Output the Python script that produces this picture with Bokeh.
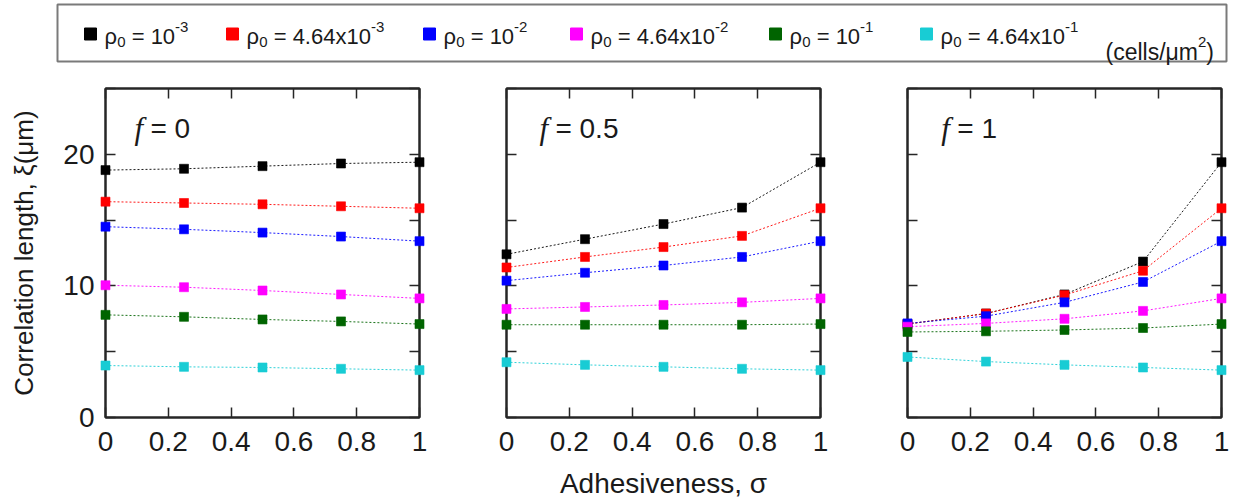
import math
from bokeh.plotting import figure
from bokeh.models import Range1d, FixedTicker, LinearAxis, Label
from bokeh.layouts import column, row
from bokeh.embed import file_html
from bokeh.resources import INLINE
from bokeh.core.properties import value

# ---------------- data ----------------
sigma = [0, 0.25, 0.5, 0.75, 1.0]
x_ticks = [0, 0.2, 0.4, 0.6, 0.8, 1]
x_tick_labels = ["0", "0.2", "0.4", "0.6", "0.8", "1"]
y_ticks = [0, 5, 10, 15, 20, 25]
y_tick_labels = ["0", "", "10", "", "20", ""]

rho_mantissa = ["10", "4.64x10", "10", "4.64x10", "10", "4.64x10"]
rho_exponent = ["-3", "-3", "-2", "-2", "-1", "-1"]
colors = ["#000000", "#ff0000", "#0000ff", "#ff00ff", "#006400", "#18ccd4"]

f_values = ["0", "0.5", "1"]

# correlation length xi (um), one list per density, for f = 0
xi_f0 = [
    [18.8, 18.9, 19.1, 19.3, 19.4],
    [16.4, 16.3, 16.2, 16.05, 15.9],
    [14.5, 14.3, 14.05, 13.75, 13.4],
    [10.05, 9.9, 9.65, 9.35, 9.05],
    [7.8, 7.65, 7.45, 7.3, 7.1],
    [3.95, 3.85, 3.8, 3.7, 3.6],
]
# f = 0.5
xi_f05 = [
    [12.4, 13.55, 14.7, 15.95, 19.4],
    [11.4, 12.2, 12.95, 13.8, 15.9],
    [10.4, 11.0, 11.55, 12.2, 13.4],
    [8.25, 8.4, 8.55, 8.75, 9.05],
    [7.05, 7.05, 7.05, 7.05, 7.1],
    [4.2, 4.0, 3.85, 3.7, 3.6],
]
# f = 1
xi_f1 = [
    [7.1, 7.9, 9.35, 11.85, 19.4],
    [7.1, 7.9, 9.3, 11.15, 15.9],
    [7.15, 7.7, 8.75, 10.3, 13.4],
    [6.9, 7.15, 7.5, 8.1, 9.05],
    [6.5, 6.55, 6.65, 6.8, 7.1],
    [4.6, 4.25, 4.0, 3.8, 3.6],
]

x_title = "Adhesiveness, \u03c3"
y_title = "Correlation length, \u03be(\u03bcm)"

SANS = "Liberation Sans"
SERIF = "Liberation Serif"
AX = "#262626"
TXT = "#1a1a1a"


def blank_strip(w, h, xr, yr):
    s = figure(width=w, height=h, x_range=xr, y_range=yr, output_backend="svg",
               toolbar_location=None, min_border_left=0, min_border_right=0,
               min_border_top=0, min_border_bottom=0)
    s.axis.visible = False
    s.grid.visible = False
    s.outline_line_color = None
    s.background_fill_color = "white"
    s.border_fill_color = "white"
    return s


def style_axis(ax, ticks, labels, show_labels=True):
    ax.ticker = FixedTicker(ticks=ticks)
    ax.major_label_overrides = {t: (l if show_labels else "") for t, l in zip(ticks, labels)}
    ax.minor_tick_line_color = None
    ax.major_tick_in = 10
    ax.major_tick_out = 0
    ax.major_tick_line_color = AX
    ax.major_tick_line_width = 1.5
    ax.axis_line_color = AX
    ax.axis_line_width = 2
    ax.major_label_text_font = SANS
    ax.major_label_text_font_size = "28px"
    ax.major_label_text_color = TXT
    ax.axis_label_text_font = SANS
    ax.axis_label_text_font_style = "normal"
    ax.axis_label_text_color = TXT


def make_panel(data, f_text, width, left, right, first, f_x):
    p = figure(width=width, height=397, x_range=Range1d(0, 1), y_range=Range1d(0, 25),
               output_backend="svg", toolbar_location=None,
               min_border_left=left, min_border_right=right,
               min_border_top=18, min_border_bottom=50)
    p.grid.visible = False
    p.outline_line_color = AX
    p.outline_line_width = 2
    p.background_fill_color = "white"
    p.border_fill_color = "white"

    style_axis(p.xaxis[0], x_ticks, x_tick_labels, True)
    p.xaxis[0].major_label_standoff = 14
    style_axis(p.yaxis[0], y_ticks, y_tick_labels, first)
    p.yaxis[0].major_label_standoff = 11
    if first:
        p.yaxis[0].axis_label = y_title
        p.yaxis[0].axis_label_text_font_size = "26px"
        p.yaxis[0].axis_label_standoff = 21

    top = LinearAxis()
    style_axis(top, x_ticks, x_tick_labels, False)
    top.major_label_standoff = 0
    p.add_layout(top, "above")
    rgt = LinearAxis()
    style_axis(rgt, y_ticks, y_tick_labels, False)
    rgt.major_label_standoff = 0
    p.add_layout(rgt, "right")

    for vals, c in zip(data, colors):
        p.line(sigma, vals, line_color=c, line_width=1, line_dash="2 2", line_alpha=0.9)
        r = p.scatter(sigma, vals, marker="square", size=9, fill_color=c, line_color=c,
                      line_alpha=0.6)
        r.level = "overlay"

    p.add_layout(Label(x=f_x, y=21.96, x_offset=-1, text="f", text_font=SERIF,
                       text_font_style="italic", text_font_size="31px", text_color=TXT,
                       text_baseline="alphabetic"))
    p.add_layout(Label(x=f_x, y=21.96, x_offset=15, text="= " + f_text, text_font=SANS,
                       text_font_size="28px", text_color=TXT, text_baseline="alphabetic"))
    return p


p1 = make_panel(xi_f0, f_values[0], 463, 105, 44, True, 0.0955)
p2 = make_panel(xi_f05, f_values[1], 400, 43, 43, False, 0.108)
p3 = make_panel(xi_f1, f_values[2], 370, 44, 12, False, 0.111)

# x-title strip below the panels; y data = page y
xs = blank_strip(1233, 34, Range1d(0, 1233), Range1d(501, 467))
xs.text(x=[663], y=[483], text=[x_title], text_align="center", text_baseline="alphabetic",
        text_font=value(SANS), text_font_size="28px", text_color=TXT)

# ---------------- legend strip ----------------
lg = blank_strip(1233, 70, Range1d(0, 1233), Range1d(70, 0))
lg.quad(left=[57], right=[1226], top=[4], bottom=[61], fill_color=None,
        line_color="#7a7a7a", line_width=2)

swatch_x = [90, 232, 429, 576, 775, 926]
lg.scatter(swatch_x, [33.5] * 6, marker="square", size=12, fill_color=colors,
           line_color=colors)

EM = {"0": .556, "1": .556, "2": .556, "3": .556, "4": .556, "5": .556, "6": .556,
      "7": .556, "8": .556, "9": .556, ".": .278, "x": .5, "=": .584, " ": .278,
      "-": .333, "\u03c1": .578, "(": .333, ")": .333, "c": .5, "e": .556, "l": .222,
      "s": .5, "/": .278, "\u03bc": .576, "m": .833}


def tw(s, size):
    return sum(EM.get(ch, .556) for ch in s) * size


def rich(x, y, parts):
    for t, size, dy in parts:
        stripped = t.lstrip(" ")
        x += tw(t[:len(t) - len(stripped)], size)
        lg.text(x=[x], y=[y + dy], text=[stripped], text_font=value(SANS),
                text_font_size=f"{size}px", text_baseline="alphabetic", text_color=TXT)
        x += tw(stripped, size)


for sx, man, ex in zip(swatch_x, rho_mantissa, rho_exponent):
    rich(sx + 14, 36, [("\u03c1", 22, 0), ("0", 15, 5), (" = " + man, 22, 0), (ex, 15, -10)])

rich(1105, 51, [("(cells/\u03bcm", 23, 0), ("2", 15, -10), (")", 23, 0)])

layout = column(lg, row(p1, p2, p3, spacing=0), xs, spacing=0)
open("out.html", "w").write(file_html(layout, INLINE))
